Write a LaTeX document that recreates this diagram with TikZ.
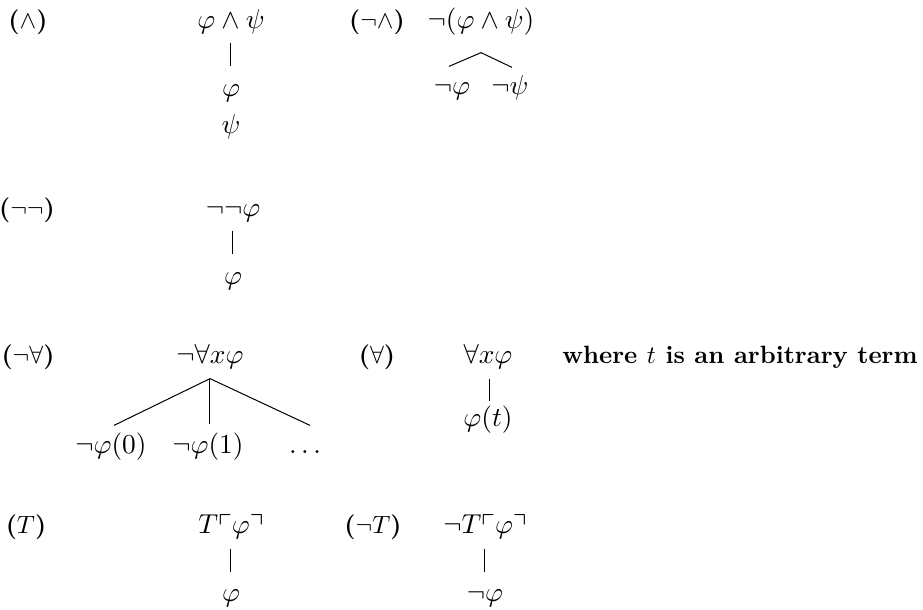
\documentclass[tikz,border=0pt]{standalone}
\usepackage{amssymb}
\usetikzlibrary{calc}
\begin{document}
\begin{tikzpicture}[x=0.4pt,y=-0.4pt,
  fm/.style={inner sep=0pt,text height=7.5pt,text depth=2.2pt,font=\fontsize{10.95}{13}\selectfont},
  rulelbl/.style={inner sep=0pt,font=\bfseries},
  edge/.style={line width=0.4pt}]
\useasboundingbox (0,0) rectangle (923,609);
% row 1
\node[rulelbl] (lAnd) at (28,22) {($\wedge$)};
\node[fm] (a) at (231,22) {$\varphi\wedge\psi$};
\node[fm] (a1) at (231,90) {$\varphi$};
\node[fm] (a2) at (231,127) {$\psi$};
\draw[edge] ($(a.south)+(0,8)$) -- ($(a1.north)+(0,-11)$);
\node[rulelbl] (lNAnd) at (377,22) {($\neg\wedge$)};
\node[fm] (b) at (481,22) {$\neg(\varphi\wedge\psi)$};
\node[fm] (b1) at (452,88) {$\neg\varphi$};
\node[fm] (b2) at (510,88) {$\neg\psi$};
\draw[edge] ($(b1.north)+(-3,-9)$) -- ($(b.south)+(0,18)$) -- ($(b2.north)+(2,-8)$);
% row 2
\node[rulelbl] (lNN) at (27,210) {($\neg\neg$)};
\node[fm] (c) at (233,210) {$\neg\neg\varphi$};
\node[fm] (c1) at (233,278) {$\varphi$};
\draw[edge] ($(c.south)+(0,8)$) -- ($(c1.north)+(0,-11)$);
% row 3
\node[rulelbl] (lNAll) at (28,357) {($\neg\forall$)};
\node[fm] (d) at (210,357) {$\neg\forall x\varphi$};
\node[fm] (d1) at (111,447) {$\neg\varphi(0)$};
\node[fm] (d2) at (208,447) {$\neg\varphi(1)$};
\node[fm] (d3) at (305,447) {$\ldots$};
\coordinate (dtop) at ($(d.south)+(0,9)$);
\draw[edge] (dtop) -- ($(d1.north)+(3,-9)$);
\draw[edge] (dtop) -- ($(d2.north)+(2,-10)$);
\draw[edge] (dtop) -- ($(d3.north)+(5,-9)$);
\node[rulelbl] (lAll) at (377,357) {($\forall$)};
\node[fm] (e) at (488,357) {$\forall x\varphi$};
\node[fm] (e1) at (488,420) {$\varphi(t)$};
\draw[edge] ($(e.south)+(2,9)$) -- ($(e1.north)+(2,-6)$);
\node[rulelbl,anchor=center] (note) at (740,357) {where $t$ is an arbitrary term};
% row 4
\node[rulelbl] (lT) at (26,527) {($T$)};
\node[fm] (f) at (231,527) {$T\ulcorner\varphi\urcorner$};
\node[fm] (f1) at (231,595) {$\varphi$};
\draw[edge] ($(f.south)+(0,9)$) -- ($(f1.north)+(0,-10)$);
\node[rulelbl] (lNT) at (373,527) {($\neg T$)};
\node[fm] (g) at (485,527) {$\neg T\ulcorner\varphi\urcorner$};
\node[fm] (g1) at (485,595) {$\neg\varphi$};
\draw[edge] ($(g.south)+(0,9)$) -- ($(g1.north)+(0,-10)$);
\end{tikzpicture}
\end{document}
